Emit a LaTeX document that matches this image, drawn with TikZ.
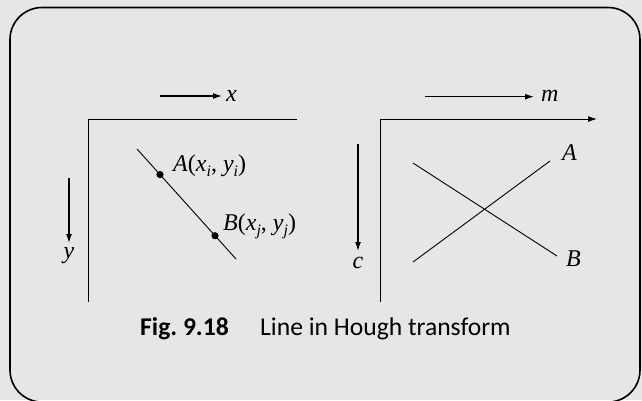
\documentclass[tikz,border=0pt]{standalone}
\usepackage{fontspec}
\setmainfont{Liberation Serif}
\newfontfamily\capfont{Carlito}
\usetikzlibrary{arrows.meta}
\definecolor{bggray}{HTML}{E6E6E6}
\frenchspacing
\newcommand{\vsub}[2]{\textit{#1}\raisebox{-0.22em}{\fontsize{16}{16}\selectfont\textit{#2}}}
\begin{document}
\begin{tikzpicture}[x=1pt,y=-1pt,
  axisline/.style={line width=1pt},
  shaft/.style={line width=1.3pt,-{Latex[length=9pt,width=6pt]}},
  plotline/.style={line width=0.9pt},
  lab/.style={font=\fontsize{24}{28}\selectfont\itshape,inner sep=0pt},
  labup/.style={font=\fontsize{24}{28}\selectfont\upshape,inner sep=0pt},
  captext/.style={font=\fontsize{25.6}{30}\selectfont\capfont,inner sep=0pt}]
\useasboundingbox (0,0) rectangle (642,400);
\fill[bggray] (0,0) rectangle (642,400);
\begin{scope}
\clip (0,0) rectangle (642,400);
\draw[line width=1.6pt,rounded corners=32pt] (10,7.5) rectangle (640,402);
\end{scope}
% left panel
\coordinate (lax) at (297,119);
\coordinate (lo) at (88,119);
\coordinate (lay) at (88,302);
\draw[axisline] (lax) -- (lo) -- (lay);
\coordinate (xs) at (160,96);
\coordinate (xe) at (222,96);
\draw[shaft] (xs) -- (xe);
\node[lab,anchor=base west] (xl) at (226,101.7) {x};
\coordinate (ys) at (69,178);
\coordinate (ye) at (69,243);
\draw[shaft] (ys) -- (ye);
\node[lab,anchor=base] (yl) at (69,258) {y};
\coordinate (ls) at (137,149);
\coordinate (le) at (236,259);
\draw[plotline] (ls) -- (le);
\coordinate (pa) at (160,174.6);
\coordinate (pb) at (215,235.7);
\fill (pa) circle (3.6);
\fill (pb) circle (3.6);
\node[labup,anchor=base west] (al) at (173,171.7) {\vsub{A}{}(\vsub{x}{i}, \vsub{y}{i})};
\node[labup,anchor=base west] (bl) at (223,230) {\vsub{B}{}(\vsub{x}{j}, \vsub{y}{j})};
% right panel
\coordinate (rax) at (597,119);
\coordinate (ro) at (380,119);
\coordinate (ray) at (380,302);
\draw[axisline,-{Latex[length=9pt,width=6pt]}] (ray) -- (ro) -- (rax);
\coordinate (ms) at (425,96.7);
\coordinate (me) at (534,96.7);
\draw[shaft] (ms) -- (me);
\node[lab,anchor=base west] (ml) at (541,101.7) {m};
\coordinate (cs) at (358,144);
\coordinate (ce) at (358,251);
\draw[shaft] (cs) -- (ce);
\node[lab,anchor=base] (cl) at (358,268) {c};
\coordinate (b1) at (413,163);
\coordinate (b2) at (557,256);
\draw[plotline] (b1) -- (b2);
\coordinate (a1) at (413,262);
\coordinate (a2) at (550,161);
\draw[plotline] (a1) -- (a2);
\node[lab,anchor=base west] (ar) at (562,160) {A};
\node[lab,anchor=base west] (br) at (566,266.7) {B};
% caption
\node[captext,anchor=base west] (cap1) at (140,335.7) {\bfseries Fig. 9.18};
\node[captext,anchor=base west] (cap2) at (260,335.7) {Line in Hough transform};
\end{tikzpicture}
\end{document}
